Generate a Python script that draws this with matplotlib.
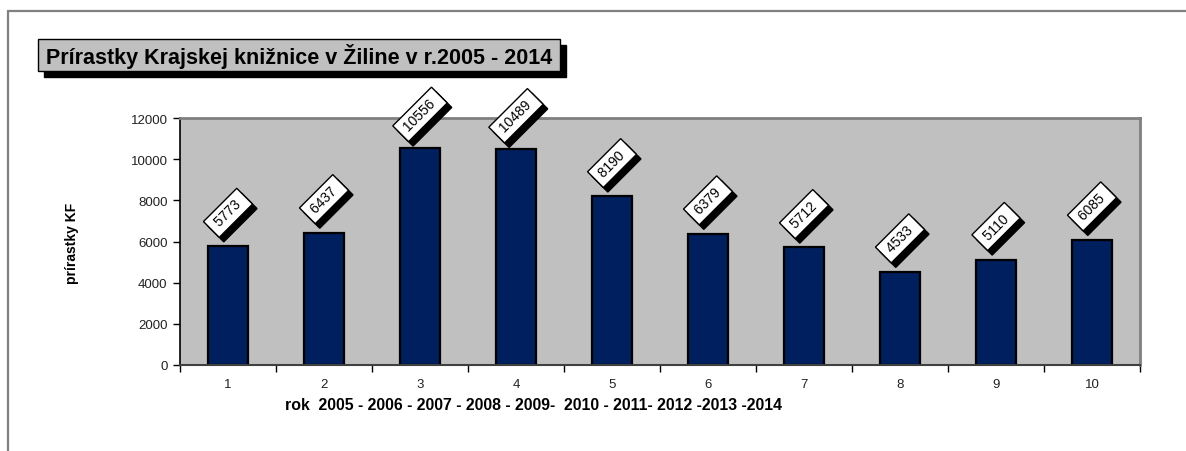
"""Bar chart of yearly acquisitions of the Krajská knižnica v Žiline, 2005-2014."""

import matplotlib

matplotlib.use("Agg")

import matplotlib.pyplot as plt
import numpy as np
from matplotlib.patches import PathPatch, Rectangle
from matplotlib.transforms import Affine2D

plt.rcParams["font.family"] = ["Liberation Sans", "DejaVu Sans"]

# data
categories = ["1", "2", "3", "4", "5", "6", "7", "8", "9", "10"]
values = [5773, 6437, 10556, 10489, 8190, 6379, 5712, 4533, 5110, 6085]
y_ticks = [0, 2000, 4000, 6000, 8000, 10000, 12000]

title = "Prírastky Krajskej knižnice v Žiline v r.2005 - 2014"
x_label = "rok  2005 - 2006 - 2007 - 2008 - 2009-  2010 - 2011- 2012 -2013 -2014"
y_label = "prírastky KF"

BAR_COLOR = "#001f5f"
PLOT_BG = "#c0c0c0"
FRAME_GRAY = "#808080"
W, H = 1186, 452


def fig_rect(x0, y0, x1, y1, **kw):
    """Rectangle given in pixels from the top-left corner, in figure coords."""
    return Rectangle((x0 / W, 1 - y1 / H), (x1 - x0) / W, (y1 - y0) / H,
                     transform=fig.transFigure, **kw)


fig = plt.figure(figsize=(W / 100, H / 100), dpi=100)

# outer chart frame (only top and left edges are visible in the crop)
fig.patches.append(Rectangle((8 / W, -0.1), 1.2, (H - 12) / H + 0.1,
                             transform=fig.transFigure, fill=False,
                             ec=FRAME_GRAY, lw=1.6, zorder=0))

ax = fig.add_axes([180 / W, 1 - 366 / H, (1140 - 180) / W, (366 - 119) / H])
ax.set_facecolor(PLOT_BG)

x = np.arange(len(categories))
ax.bar(x, values, width=0.41, color=BAR_COLOR, edgecolor="black", linewidth=1.6, zorder=2)

labels = []
for xi, v in zip(x, values):
    t = ax.annotate(f" {v} ", xy=(xi, v), xytext=(0, 24), textcoords="offset points",
                    rotation=45, rotation_mode="anchor", ha="center", va="center",
                    fontsize=10, color="black", zorder=5, annotation_clip=False,
                    bbox=dict(boxstyle="square,pad=0.3", fc="white", ec="black", lw=1))
    labels.append(t)

ax.set_xlim(-0.5, len(categories) - 0.5)
ax.set_ylim(0, 12000)
ax.set_yticks(y_ticks)
ax.set_yticklabels([str(t) for t in y_ticks], fontsize=9.5)
ax.set_xticks(x)
ax.set_xticklabels(categories, fontsize=9.5)
ax.set_xticks(np.arange(len(categories) + 1) - 0.5, minor=True)
ax.tick_params(axis="x", which="major", length=0, pad=9, labelcolor="#222222")
ax.tick_params(axis="x", which="minor", length=5, width=1, direction="out", color="black")
ax.tick_params(axis="y", length=5, width=1, direction="out", pad=4,
               color="black", labelcolor="#222222")

for side in ("top", "right"):
    ax.spines[side].set_color(FRAME_GRAY)
    ax.spines[side].set_linewidth(2)
ax.spines["left"].set_color("black")
ax.spines["left"].set_linewidth(1.2)
ax.spines["bottom"].set_color("#404040")
ax.spines["bottom"].set_linewidth(1.5)

# axis titles
fig.text(285 / W, 1 - 406 / H, x_label, fontsize=11.4, fontweight="bold",
         ha="left", va="center")
fig.text(72 / W, 1 - 243 / H, y_label, fontsize=10, fontweight="bold",
         rotation=90, ha="center", va="center")

# chart title in a grey box with a drop shadow
fig.patches.append(fig_rect(44, 46, 566, 78, fc="black", ec="black", lw=1, zorder=1))
fig.patches.append(fig_rect(38, 40, 560, 72, fc=PLOT_BG, ec="black", lw=1, zorder=2))
fig.text(299 / W, 1 - 56.5 / H, title, fontsize=15.5, fontweight="bold",
         ha="center", va="center", color="black", zorder=3)

# drop shadows of the rotated data labels: copy each label box, shifted
fig.canvas.draw()
for t in labels:
    box = t.get_bbox_patch()
    shadow = PathPatch(box.get_path(), fc="black", ec="black", lw=1, zorder=4,
                       transform=box.get_transform() + Affine2D().translate(4.5, -4.5))
    shadow.set_clip_on(False)
    ax.add_artist(shadow)

fig.savefig("out.png", dpi=100)
